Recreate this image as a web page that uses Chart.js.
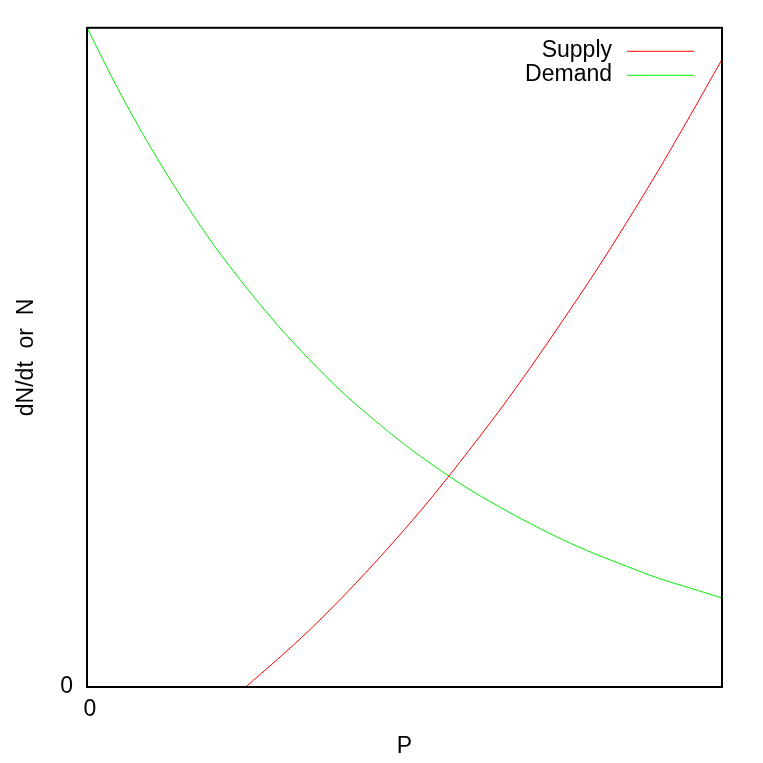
<!DOCTYPE html>
<html>
<head>
<meta charset="utf-8">
<script src="https://cdn.jsdelivr.net/npm/chart.js@4"></script>
<style>
    html, body { margin: 0; padding: 0; background: #fff; }
    #box { width: 763px; height: 763px; }
</style>
</head>
<body>
<div id="box"><canvas id="chart" width="763" height="763"></canvas></div>
<script>
/* ---- data ---- */

const pValues = [0, 0.5, 1, 1.5, 2, 2.5, 3, 3.5, 4, 4.5, 5,
                 5.5, 6, 6.5, 7, 7.5, 8, 8.5, 9, 9.5, 10];

// supply only starts at P = 2.5
const supplyValues = [null, null, null, null, null, 0, 0.42, 0.86, 1.34, 1.85, 2.39,
                      2.96, 3.57, 4.20, 4.87, 5.57, 6.29, 7.05, 7.84, 8.67, 9.52];

const demandValues = [10, 9.05, 8.19, 7.41, 6.70, 6.07, 5.49, 4.97, 4.49, 4.07, 3.68,
                      3.33, 3.01, 2.73, 2.47, 2.23, 2.02, 1.83, 1.65, 1.50, 1.35];

const seriesNames = ["Supply", "Demand"];
const seriesColors = ["#ff0000", "#00ee00"];

const xTicks = [0];
const yTicks = [0];
const xTitle = "P";
const yTitle = "dN/dt  or  N";

const FONT = "'Liberation Sans', Arial, sans-serif";

function toPoints(values) {
    return pValues.map((p, i) => ({ x: p, y: values[i] }));
}

/* ---- small plugins: frame + legend inside the plot ---- */

const frame = {
    id: "frame",
    afterDatasetsDraw(chart) {
        const a = chart.chartArea;
        const ctx = chart.ctx;
        ctx.save();
        ctx.strokeStyle = "#000";
        ctx.lineWidth = 2;
        ctx.strokeRect(a.left, a.top, a.right - a.left, a.bottom - a.top);
        ctx.restore();
    }
};

const insideLegend = {
    id: "insideLegend",
    afterDraw(chart) {
        const ctx = chart.ctx;
        const a = chart.chartArea;
        ctx.save();
        ctx.font = "23px " + FONT;
        ctx.textAlign = "right";
        ctx.textBaseline = "middle";
        chart.data.datasets.forEach((ds, i) => {
            const y = a.top + 23 + i * 24;
            ctx.fillStyle = "#000";
            ctx.fillText(ds.label, a.right - 110, y);
            ctx.strokeStyle = ds.borderColor;
            ctx.lineWidth = 1;
            ctx.beginPath();
            ctx.moveTo(a.right - 95, y + 0.5);
            ctx.lineTo(a.right - 28, y + 0.5);
            ctx.stroke();
        });
        ctx.restore();
    }
};

/* ---- chart ---- */

new Chart(document.getElementById("chart"), {
    type: "line",
    data: {
        datasets: [
            {
                label: seriesNames[0],
                data: toPoints(supplyValues),
                borderColor: seriesColors[0],
                borderWidth: 1,
                pointRadius: 0,
                tension: 0.3,
                spanGaps: false
            },
            {
                label: seriesNames[1],
                data: toPoints(demandValues),
                borderColor: seriesColors[1],
                borderWidth: 1,
                pointRadius: 0,
                tension: 0.3
            }
        ]
    },
    options: {
        responsive: false,
        animation: false,
        layout: { padding: { top: 25, right: 41, left: 0, bottom: 0 } },
        plugins: {
            legend: { display: false },
            tooltip: { enabled: false }
        },
        scales: {
            x: {
                type: "linear",
                min: 0,
                max: 10,
                grid: { display: false, drawTicks: false },
                border: { display: false },
                afterBuildTicks: s => { s.ticks = xTicks.map(v => ({ value: v })); },
                afterFit: s => { s.height = 76; },
                ticks: {
                    color: "#000",
                    padding: 9,
                    labelOffset: 3,
                    maxRotation: 0,
                    font: { family: FONT, size: 23 }
                },
                title: {
                    display: true,
                    text: xTitle,
                    color: "#000",
                    padding: { top: 0, bottom: 3 },
                    font: { family: FONT, size: 23 }
                }
            },
            y: {
                type: "linear",
                min: 0,
                max: 10,
                grid: { display: false, drawTicks: false },
                border: { display: false },
                afterBuildTicks: s => { s.ticks = yTicks.map(v => ({ value: v })); },
                afterFit: s => { s.width = 87; },
                ticks: {
                    color: "#000",
                    padding: 14,
                    font: { family: FONT, size: 23 }
                },
                title: {
                    display: true,
                    text: yTitle,
                    color: "#000",
                    padding: { top: 13, bottom: 0 },
                    font: { family: FONT, size: 23 }
                }
            }
        }
    },
    plugins: [frame, insideLegend]
});
</script>
</body>
</html>
